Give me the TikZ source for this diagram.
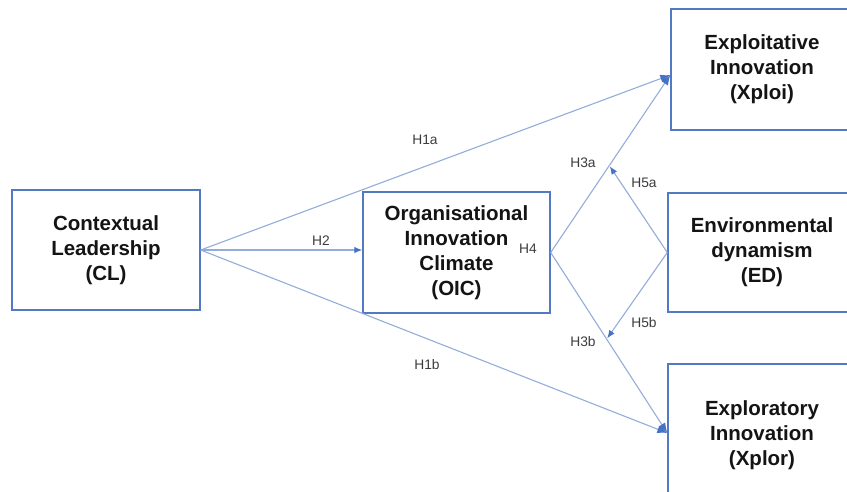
\documentclass[tikz,border=0pt]{standalone}
\usepackage{fontspec}
\setmainfont{Liberation Sans}
\usetikzlibrary{arrows.meta,calc}
\definecolor{boxblue}{HTML}{5479C4}
\definecolor{lineblue}{HTML}{94ACDA}
\definecolor{headblue}{HTML}{4472C4}
\definecolor{txt}{HTML}{141414}
\definecolor{lbl}{HTML}{3C3C3C}
\begin{document}
\begin{tikzpicture}[x=1pt,y=-1pt,
  box/.style={draw=boxblue,line width=1.4pt,fill=white,align=center,inner sep=0pt,
    font=\fontsize{20.5}{25}\selectfont\bfseries,text=txt},
  conn/.style={draw=lineblue,line width=1.1pt,-{Latex[length=10pt,width=8pt,color=headblue]}},
  sconn/.style={draw=lineblue,line width=1.1pt,-{Latex[length=8pt,width=6.5pt,color=headblue]}},
  lab/.style={font=\fontsize{13.8}{16}\selectfont,text=lbl,inner sep=0pt}]
\useasboundingbox (0,0) rectangle (847,491);
\node[box,minimum width=188pt,minimum height=120pt] (CL) at (106,250) {Contextual\\Leadership\\(CL)};
\node[box,minimum width=187pt,minimum height=121pt] (OIC) at (456.5,252.5) {Organisational\\Innovation\\Climate\\(OIC)};
\node[box,minimum width=182pt,minimum height=121pt] (XPLOI) at (762,69.5) {Exploitative\\Innovation\\(Xploi)};
\node[box,minimum width=188pt,minimum height=119pt] (ED) at (762,252.5) {Environmental\\dynamism\\(ED)};
\node[box,minimum width=188pt,minimum height=142pt] (XPLOR) at (762,435) {Exploratory\\Innovation\\(Xplor)};
\coordinate (tA) at ([yshift=-5.5pt]XPLOI.west);
\coordinate (tB) at ([yshift=2pt]XPLOR.west);
\draw[conn] (CL.east) -- (tA);
\draw[sconn] (CL.east) -- (CL.east -| OIC.west);
\draw[conn] (CL.east) -- (tB);
\draw[conn] (OIC.east) -- (tA);
\draw[conn] (OIC.east) -- (tB);
\coordinate (mA) at ($(OIC.east)!0.49!(tA)$);
\coordinate (mB) at ($(OIC.east)!0.48!(tB)$);
\draw[sconn,shorten >=1pt] (ED.west) -- (mA);
\draw[sconn,shorten >=1pt] (ED.west) -- (mB);
\node[lab] (h1a) at (425,140) {H1a};
\node[lab] (h2) at (321,241) {H2};
\node[lab] (h1b) at (427,365) {H1b};
\node[lab] (h4) at (528,249) {H4};
\node[lab] (h3a) at (583,163) {H3a};
\node[lab] (h5a) at (644,183) {H5a};
\node[lab] (h5b) at (644,323) {H5b};
\node[lab] (h3b) at (583,342) {H3b};
\end{tikzpicture}
\end{document}
